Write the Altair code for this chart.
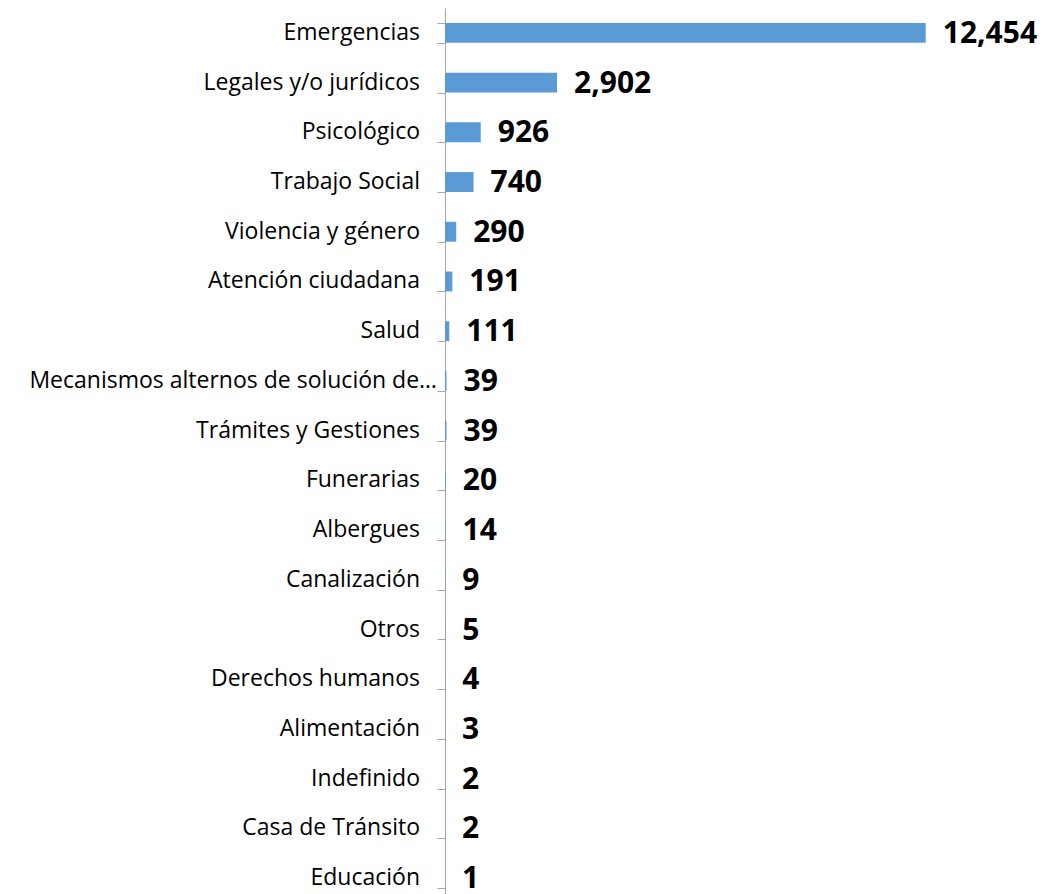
import altair as alt
import pandas as pd

categories = [
    "Emergencias", "Legales y/o jurídicos", "Psicológico", "Trabajo Social",
    "Violencia y género", "Atención ciudadana", "Salud",
    "Mecanismos alternos de solución de controversias", "Trámites y Gestiones",
    "Funerarias", "Albergues", "Canalización", "Otros", "Derechos humanos",
    "Alimentación", "Indefinido", "Casa de Tránsito", "Educación",
]
values = [12454, 2902, 926, 740, 290, 191, 111, 39, 39, 20, 14, 9, 5, 4, 3, 2, 2, 1]

df = pd.DataFrame({"categoria": categories, "valor": values})
long_label = "Mecanismos alternos de solución de controversias"

FONT = "Open Sans"

y_scale = alt.Scale(paddingInner=0.6, paddingOuter=0.3)

y_enc = alt.Y(
    "categoria:N",
    sort=categories,
    scale=y_scale,
    axis=alt.Axis(
        title=None,
        labels=False,
        tickBand="extent",
        tickSize=8,
        tickColor="#A6A6A6",
        domainColor="#A6A6A6",
        tickWidth=1,
        domainWidth=1,
        grid=False,
    ),
)

x_scale = alt.Scale(domain=[0, 15000], nice=False, zero=True)

bars = alt.Chart(df).mark_bar(color="#5B9BD5").encode(
    x=alt.X("valor:Q", scale=x_scale, axis=None),
    y=y_enc,
)

nums = alt.Chart(df).mark_text(
    align="left", baseline="middle", dx=17, dy=1,
    font=FONT, fontSize=30, fontWeight="bold", color="#000000",
).encode(
    x=alt.X("valor:Q", scale=x_scale, axis=None),
    y=alt.Y("categoria:N", sort=categories),
    text=alt.Text("valor:Q", format=","),
)

cat_labels = alt.Chart(df).transform_filter(
    alt.datum.categoria != long_label
).mark_text(
    align="right", baseline="middle", font=FONT, fontSize=23, color="#000000",
).encode(
    x=alt.value(-25),
    y=alt.Y("categoria:N", sort=categories),
    text="categoria:N",
)

long_lbl = alt.Chart(df).transform_filter(
    alt.datum.categoria == long_label
).transform_calculate(
    corto="substring(datum.categoria, 0, 34) + '…'"
).mark_text(
    align="right", baseline="middle", font=FONT, fontSize=23, color="#000000",
).encode(
    x=alt.value(-8),
    y=alt.Y("categoria:N", sort=categories),
    text="corto:N",
)

chart = alt.layer(bars, nums, cat_labels, long_lbl).properties(
    width=579,
    height=895,
    autosize=alt.AutoSizeParams(type="none"),
    padding={"left": 437, "top": 0, "right": 18, "bottom": 0},
    background="#FFFFFF",
).configure_view(stroke=None)

chart.save("out.html", embed_options={"renderer": "svg", "actions": False})
